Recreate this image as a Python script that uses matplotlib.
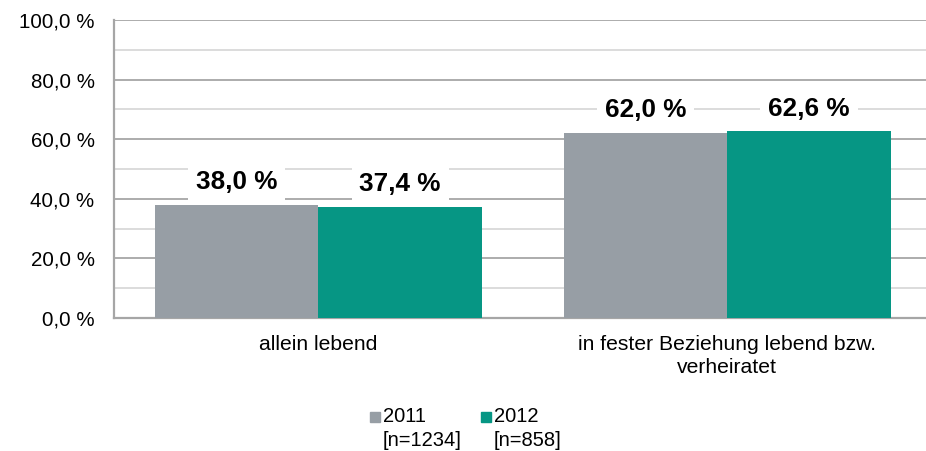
import matplotlib
matplotlib.use("Agg")
import matplotlib.pyplot as plt
from matplotlib.patches import Rectangle
from matplotlib.ticker import FuncFormatter, MultipleLocator

plt.rcParams['font.family'] = ['Liberation Sans', 'DejaVu Sans']

# Daten
categories = ["allein lebend", "in fester Beziehung lebend bzw.\nverheiratet"]
years = ["2011", "2012"]
sample_sizes = ["[n=1234]", "[n=858]"]
values_2011 = [38.0, 62.0]
values_2012 = [37.4, 62.6]
colors = ["#979ea5", "#069684"]

fig = plt.figure(figsize=(9.26, 4.51), dpi=100)
ax = fig.add_axes([114 / 926, 133 / 451, 1 - 114 / 926, 298 / 451])

bar_w = 0.4
x = list(range(len(categories)))
for i, (vals, col) in enumerate(zip([values_2011, values_2012], colors)):
    pos = [xi - bar_w / 2 + i * bar_w for xi in x]
    bars = ax.bar(pos, vals, width=bar_w, color=col, zorder=3)
    for b, v in zip(bars, vals):
        ax.annotate(f"{v:.1f} %".replace(".", ","),
                    (b.get_x() + b.get_width() / 2, v),
                    xytext=(0, 16.5), textcoords="offset points",
                    ha="center", va="center", fontsize=18.8, fontweight="bold",
                    bbox=dict(boxstyle="square,pad=0.3", fc="white", ec="none"),
                    zorder=4)

ax.set_xlim(-0.5, 1 + (926 - 727) / 409)
ax.set_ylim(0, 100)

# Gitternetz: Hauptlinien alle 20 %, Hilfslinien alle 10 %
ax.yaxis.set_major_locator(MultipleLocator(20))
ax.yaxis.set_minor_locator(MultipleLocator(10))
ax.yaxis.set_major_formatter(FuncFormatter(lambda v, p: f"{v:.1f} %".replace(".", ",")))
ax.grid(axis="y", which="major", color="#a6a6a6", linewidth=1.3, zorder=0)
ax.grid(axis="y", which="minor", color="#d9d9d9", linewidth=1.3, zorder=0)
ax.set_axisbelow(True)

ax.tick_params(axis="y", which="both", length=0, pad=14, labelsize=14.8)
ax.set_xticks(x)
ax.set_xticklabels(categories, fontsize=15.2, linespacing=1.3)
ax.tick_params(axis="x", length=0, pad=12)

for s in ["top", "right"]:
    ax.spines[s].set_visible(False)
for s in ["left", "bottom"]:
    ax.spines[s].set_color("#a6a6a6")
    ax.spines[s].set_linewidth(1.6)

# Legende
leg_x = [370, 481]
for lx, yr, n, col in zip(leg_x, years, sample_sizes, colors):
    fig.add_artist(Rectangle((lx / 926, 1 - 422 / 451), 10 / 926, 10 / 451,
                             transform=fig.transFigure, color=col))
    fig.text((lx + 13) / 926, 1 - 416 / 451, yr, fontsize=14.5, va="center")
    fig.text((lx + 13) / 926, 1 - 441 / 451, n, fontsize=14.5, va="center")

fig.savefig("out.png", dpi=100)
